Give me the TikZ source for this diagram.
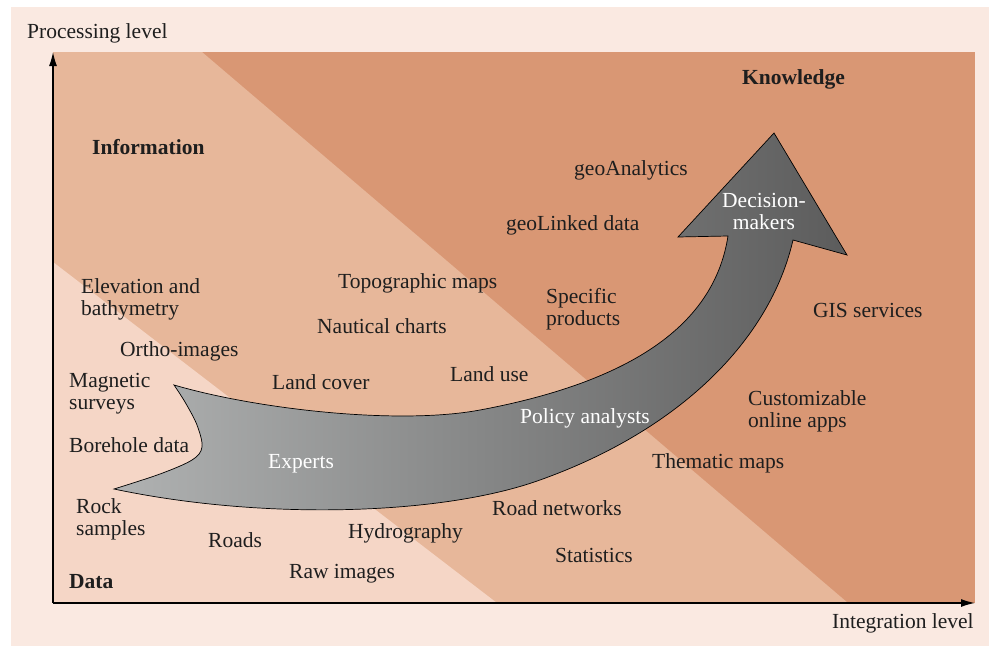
\documentclass[tikz,border=0pt]{standalone}
\usepackage{fontspec}
\setmainfont{Liberation Serif}
\usetikzlibrary{arrows.meta}

\definecolor{pagebg}{HTML}{FAE9E1}
\definecolor{datazone}{HTML}{F5D6C6}
\definecolor{infozone}{HTML}{E7B79A}
\definecolor{knowzone}{HTML}{D99774}
\definecolor{inkc}{HTML}{1E1E1E}
\definecolor{greylight}{HTML}{B0B2B2}
\definecolor{greydark}{HTML}{5C5C5C}

\begin{document}
\begin{tikzpicture}[x=1pt,y=-1pt,
  txt/.style={inner sep=0pt, text=inkc, font=\fontsize{21.5}{22.5}\selectfont},
  lbl/.style={txt, anchor=base west},
  lbltwo/.style={txt, anchor=north west, align=left},
  boldlbl/.style={lbl, font=\fontsize{21.5}{22.5}\selectfont\bfseries},
  onarrow/.style={lbl, text=white},
  axis/.style={line width=1.4pt, draw=black, -{Latex[length=14pt,width=8pt]}},
  bigarrow/.style={draw=black, line width=0.7pt, left color=greylight, right color=greydark, line join=miter}
]
\useasboundingbox (0,0) rectangle (989,646);

% page and plotting field
\fill[pagebg] (11,7) rectangle (989,646);
\fill[knowzone] (53,52) rectangle (975,603);
\fill[infozone] (53,52) -- (202,52) -- (848,603) -- (53,603) -- cycle;
\fill[datazone] (53,262) -- (497,603) -- (53,603) -- cycle;

% axes
\coordinate (origin) at (53,603);
\coordinate (ytip) at (53,52);
\coordinate (xtip) at (975,603);
\draw[axis] (origin) -- (ytip);
\draw[axis] (origin) -- (xtip);

% the rising arrow: upper edge, head, lower edge, notched tail
\path[bigarrow]
  (174,385) .. controls (260,410) and (400,425) .. (480,410)
            .. controls (640,380) and (715,320) .. (728,236)
  -- (678,237) -- (774,133) -- (847,255) -- (793,240)
            .. controls (770,340) and (680,430) .. (540,480)
            .. controls (440,516) and (260,520) .. (114,489)
  -- plot[smooth, tension=0.55] coordinates {(114,489) (160,474) (192,460) (202,447) (197,425) (185,402) (174,385)}
  -- cycle;

% axis titles and zone names
\node[lbl] (ylabel) at (27,38) {Processing level};
\node[lbl] (xlabel) at (832,628) {Integration level};
\node[boldlbl] (information) at (92,154) {Information};
\node[boldlbl] (knowledge) at (742,84) {Knowledge};
\node[boldlbl] (data) at (69,588) {Data};

% items
\node[lbl] (geoanalytics) at (574,175) {geoAnalytics};
\node[lbl] (geolinked) at (506,230) {geoLinked data};
\node[lbl] (topomaps) at (338,288) {Topographic maps};
\node[lbltwo] (elevation) at (81,278) {Elevation and\\bathymetry};
\node[lbltwo] (specific) at (546,288) {Specific\\products};
\node[lbl] (gisservices) at (813,317) {GIS services};
\node[lbl] (nautical) at (317,333) {Nautical charts};
\node[lbl] (ortho) at (120,356) {Ortho-images};
\node[lbltwo] (magnetic) at (69,373) {Magnetic\\surveys};
\node[lbl] (landcover) at (272,389) {Land cover};
\node[lbl] (landuse) at (450,381) {Land use};
\node[lbltwo] (customizable) at (748,390) {Customizable\\online apps};
\node[lbl] (borehole) at (69,452) {Borehole data};
\node[lbl] (thematic) at (652,468) {Thematic maps};
\node[lbltwo] (rock) at (76,498) {Rock\\samples};
\node[lbl] (roadnet) at (492,515) {Road networks};
\node[lbl] (roads) at (208,547) {Roads};
\node[lbl] (hydro) at (348,538) {Hydrography};
\node[lbl] (stats) at (555,562) {Statistics};
\node[lbl] (rawimg) at (289,578) {Raw images};

% actors on the arrow
\node[onarrow] (experts) at (268,468) {Experts};
\node[onarrow] (policy) at (520,423) {Policy analysts};
\node[txt, text=white, anchor=north, align=center] (decision) at (764,193) {Decision-\\makers};
\end{tikzpicture}
\end{document}
